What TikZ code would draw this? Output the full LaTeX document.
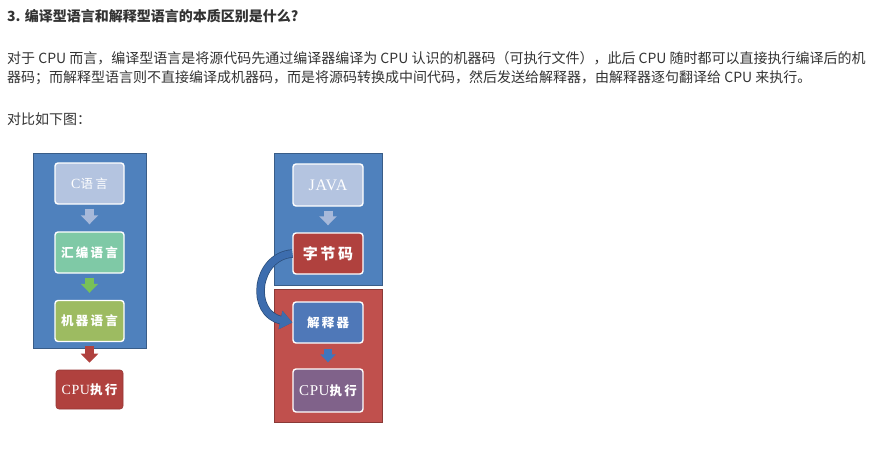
\documentclass[tikz,border=0pt]{standalone}
\usepackage{fontspec}
\newfontfamily\cjk{Noto Sans CJK SC}
\newfontfamily\boxcjk{Noto Sans CJK SC}[LetterSpace=18]
\newfontfamily\latser{Liberation Serif}[LetterSpace=4]
\usetikzlibrary{arrows.meta}

\definecolor{textgray}{HTML}{333333}
\definecolor{panelblue}{HTML}{4F81BD}
\definecolor{panelred}{HTML}{C0504D}
\definecolor{paleblue}{HTML}{B4C4E0}
\definecolor{palearrow}{HTML}{A7B9DA}
\definecolor{mint}{HTML}{7FC9A6}
\definecolor{greenarrow}{HTML}{78C158}
\definecolor{olive}{HTML}{9DBB61}
\definecolor{brick}{HTML}{B0413E}
\definecolor{midblue}{HTML}{4F78B8}
\definecolor{bluearrow}{HTML}{3E76BD}
\definecolor{plum}{HTML}{80628A}
\definecolor{curveblue}{HTML}{3D6DAE}
\definecolor{curveedge}{HTML}{2C4F7C}

\begin{document}
\begin{tikzpicture}[x=1pt,y=-1pt,
  txt/.style={anchor=west,inner sep=0,text=textgray,font=\cjk\fontsize{14}{16}\selectfont},
  panel/.style={draw=#1!72!black,fill=#1,line width=1pt,inner sep=0},
  box/.style={draw=white,fill=#1,line width=1.4pt,rounded corners=3pt,
    minimum width=69,minimum height=41,inner sep=0,text=white,
    font=\boxcjk\bfseries\fontsize{12.5}{15}\selectfont},
  flow/.style={draw=#1,line width=9pt,-{Triangle[width=17pt,length=9pt]},
    shorten <=4pt,shorten >=7pt},
]
\useasboundingbox (0,0) rectangle (881,453);

% text above the picture
\node[txt,font=\cjk\bfseries\fontsize{14}{16}\selectfont] (title) at (7,16)
  {3. 编译型语言和解释型语言的本质区别是什么?};
\node[txt] (line1) at (7,58)
  {对于 CPU 而言，编译型语言是将源代码先通过编译器编译为 CPU 认识的机器码（可执行文件），此后 CPU 随时都可以直接执行编译后的机};
\node[txt] (line2) at (7,78)
  {器码；而解释型语言则不直接编译成机器码，而是将源码转换成中间代码，然后发送给解释器，由解释器逐句翻译给 CPU 来执行。};
\node[txt] (compare) at (7,119) {对比如下图：};

% compiled language
\node[panel=panelblue,minimum width=113,minimum height=195] (compiled) at (89.5,250.5) {};
\node[box=paleblue,font=\boxcjk\fontsize{12.5}{15}\selectfont] (clang) at (89.5,183.5)
  {{\latser\fontsize{14}{16}\selectfont C}语言};
\node[box=mint] (asm) at (89.5,252.5) {汇编语言};
\node[box=olive] (machine) at (89.5,321) {机器语言};
\node[box=brick,draw=brick!85!black,line width=0.6pt,minimum width=67,minimum height=39]
  (cpuleft) at (89.5,389.5) {{\latser\mdseries\fontsize{14}{16}\selectfont CPU}执行};
\draw[flow=palearrow] (clang.south) -- (asm.north);
\draw[flow=greenarrow] (asm.south) -- (machine.north);
\draw[flow=brick] (machine.south) -- (cpuleft.north);

% interpreted language
\node[panel=panelblue,minimum width=108,minimum height=132] (frontend) at (328,219) {};
\node[panel=panelred,minimum width=108,minimum height=133] (backend) at (328,355.5) {};
\node[box=paleblue,minimum width=70,minimum height=42,font=\latser\fontsize{16}{18}\selectfont]
  (java) at (328,185) {JAVA};
\node[box=brick,minimum width=70,font=\boxcjk\bfseries\fontsize{15}{17}\selectfont]
  (bytecode) at (328,253.5) {字节码};
\node[box=midblue,minimum width=70] (interp) at (328,322.5) {解释器};
\node[box=plum,minimum width=70,minimum height=43] (cpuright) at (328,390.5)
  {{\latser\mdseries\fontsize{15}{17}\selectfont CPU}执行};
\draw[flow=palearrow] (java.south) -- (bytecode.north);
\draw[flow=bluearrow,line width=8pt,-{Triangle[width=15pt,length=8pt]},shorten <=5pt,shorten >=6pt]
  (interp.south) -- (cpuright.north);
\draw[curveblue,line width=7pt,-{Triangle[width=18pt,length=12pt]},
  preaction={draw=curveedge,line width=8.5pt}]
  (bytecode.west) .. controls +(-37,3) and +(-43,-9) .. (interp.west);
\end{tikzpicture}
\end{document}
